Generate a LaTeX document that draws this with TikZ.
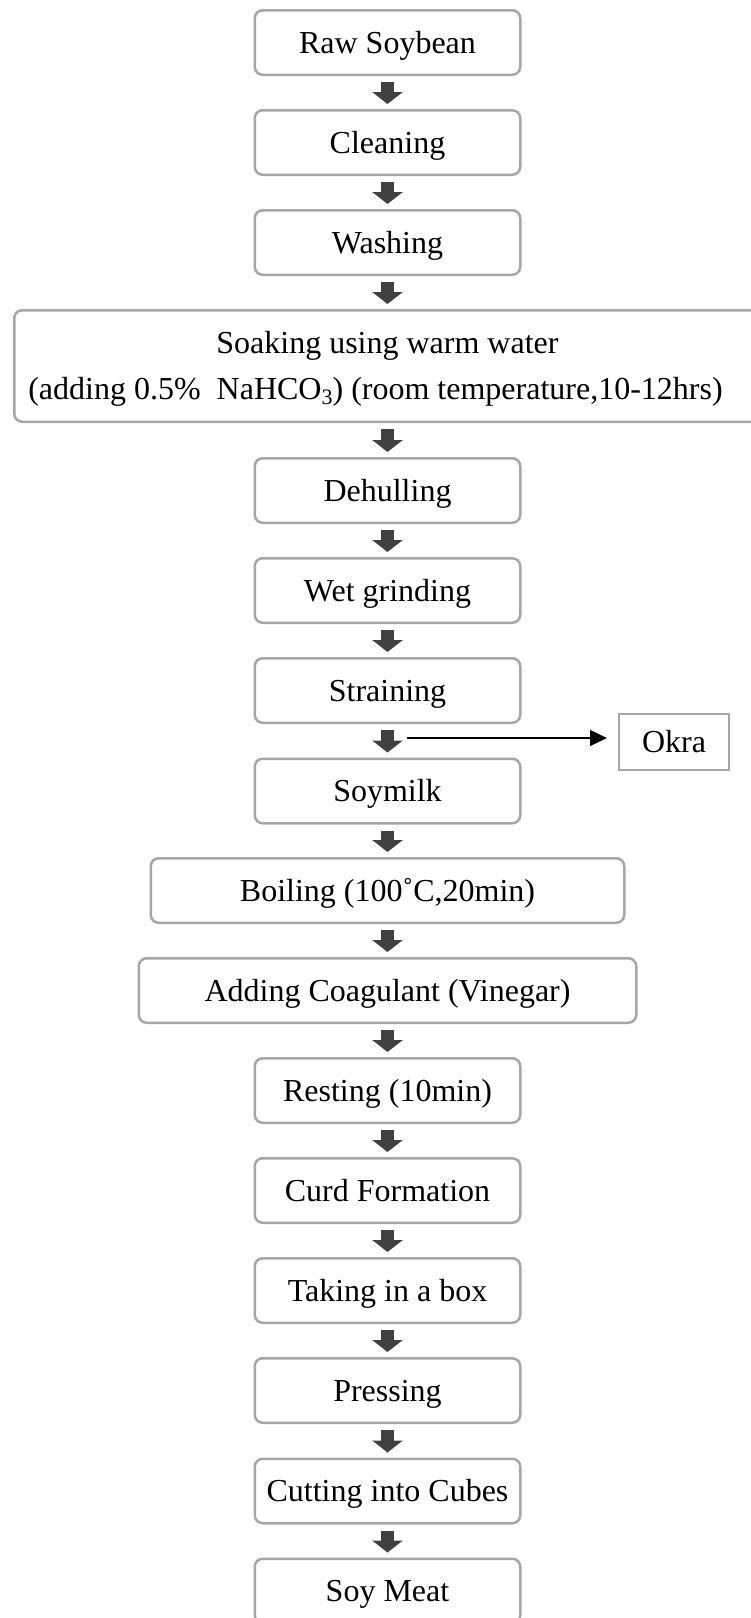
\documentclass[tikz,border=0pt]{standalone}
\usepackage{fontspec}
\setmainfont{Liberation Serif}
\usetikzlibrary{arrows.meta}
\definecolor{boxline}{HTML}{A6A6A6}
\definecolor{flow}{HTML}{404040}
\tikzset{
  box/.style={draw=boxline, line width=2.5pt, rounded corners=8pt, minimum width=265.5pt,
    minimum height=64.5pt, inner sep=0pt, font=\fontsize{32}{46}\selectfont,
    text height=21pt, text depth=0pt},
  sidebox/.style={draw=boxline, line width=2pt, minimum width=110pt, minimum height=56pt,
    inner sep=0pt, font=\fontsize{32}{46}\selectfont, text height=21pt, text depth=0pt},
  flowarrow/.style={draw=flow, line width=13pt, -{Triangle[width=30pt,length=12pt]},
    shorten <=6pt, shorten >=5pt}
}
\newcommand{\lowsub}[1]{\raisebox{-5pt}{\fontsize{22}{22}\selectfont #1}}
\begin{document}
\begin{tikzpicture}[x=1pt,y=1pt]
      \useasboundingbox (0,0) rectangle (751,-1618);
      \draw
        (387.5,-42.5) node[box] (raw){Raw Soybean}
        (387.5,-142.5) node[box] (clean){Cleaning}
        (387.5,-242.5) node[box] (wash){Washing}
        (387.5,-366) node[box, minimum width=746.5pt, minimum height=111.5pt, text height=67pt, text depth=0pt, align=center] (soak){Soaking using warm water\\(adding 0.5\%~~NaHCO\lowsub{3}) (room temperature,10-12hrs)\hspace*{24pt}}
        (387.5,-490.5) node[box] (dehull){Dehulling}
        (387.5,-590.5) node[box] (grind){Wet grinding}
        (387.5,-690.5) node[box] (strain){Straining}
        (387.5,-791) node[box] (milk){Soymilk}
        (387.5,-890.5) node[box, minimum width=473.5pt] (boil){Boiling (100˚C,20min)}
        (387.5,-990.5) node[box, minimum width=497.5pt] (coag){Adding Coagulant (Vinegar)}
        (387.5,-1090.5) node[box] (rest){Resting (10min)}
        (387.5,-1190.5) node[box] (curd){Curd Formation}
        (387.5,-1290.5) node[box] (boxing){Taking in a box}
        (387.5,-1390.5) node[box] (press){Pressing}
        (387.5,-1491) node[box] (cut){Cutting into Cubes}
        (387.5,-1591) node[box] (meat){Soy Meat}
        (674,-742) node[sidebox] (okra){Okra};
      \coordinate (split) at (407,-738);
      \begin{scope}[flowarrow]
        \draw (raw) to (clean);
        \draw (clean) to (wash);
        \draw (wash) to (soak);
        \draw (soak) to (dehull);
        \draw (dehull) to (grind);
        \draw (grind) to (strain);
        \draw (strain) to (milk);
        \draw (milk) to (boil);
        \draw (boil) to (coag);
        \draw (coag) to (rest);
        \draw (rest) to (curd);
        \draw (curd) to (boxing);
        \draw (boxing) to (press);
        \draw (press) to (cut);
        \draw (cut) to (meat);
      \end{scope}
      \draw[line width=1.3pt, -{Triangle[width=16pt,length=17pt]}, shorten >=11pt] (split) -- (split -| okra.west);
    \end{tikzpicture}
\end{document}
